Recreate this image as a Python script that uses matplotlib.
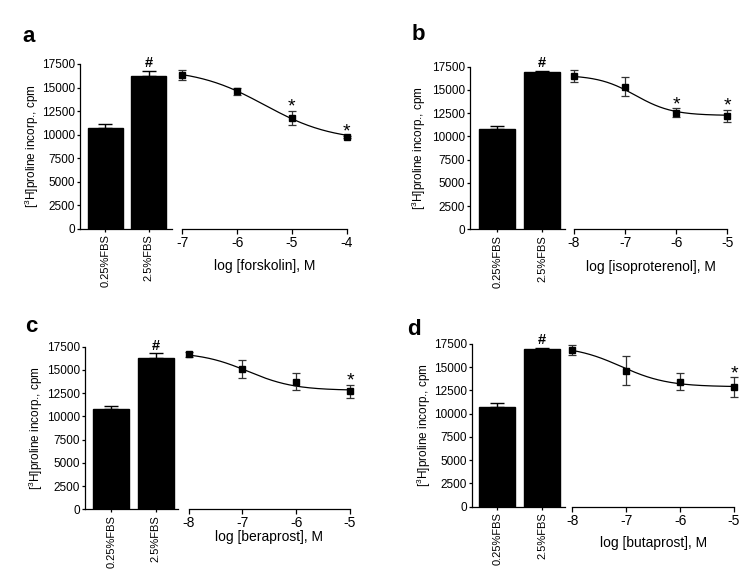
import numpy as np
import matplotlib
matplotlib.use('Agg')
import matplotlib.pyplot as plt

plt.rcParams['font.family'] = ['Liberation Sans', 'DejaVu Sans']

W, H = 750, 575

bar_labels = ['0.25%FBS', '2.5%FBS']
y_ticks = [0, 2500, 5000, 7500, 10000, 12500, 15000, 17500]
ylabel = '[$\\mathregular{^3}$H]proline incorp., cpm'

# ---- panel a : forskolin
a_bar_vals = [10750, 16200]
a_bar_err = [390, 530]
a_logc = [-7, -6, -5, -4]
a_vals = [16350, 14600, 11750, 9750]
a_err = [500, 350, 760, 100]
a_star = [False, False, True, True]
a_fit = dict(top=17000, bottom=9300, logec50=-5.5, hill=0.7)
a_xlabel = 'log [forskolin], M'

# ---- panel b : isoproterenol
b_bar_vals = [10780, 16950]
b_bar_err = [360, 100]
b_logc = [-8, -7, -6, -5]
b_vals = [16500, 15350, 12550, 12200]
b_err = [630, 1040, 480, 660]
b_star = [False, False, True, True]
b_fit = dict(top=16600, bottom=12250, logec50=-6.8, hill=1.2)
b_xlabel = 'log [isoproterenol], M'

# ---- panel c : beraprost
c_bar_vals = [10790, 16250]
c_bar_err = [360, 540]
c_logc = [-8, -7, -6, -5]
c_vals = [16680, 15100, 13750, 12700]
c_err = [270, 950, 900, 680]
c_star = [False, False, False, True]
c_fit = dict(top=16900, bottom=12800, logec50=-6.9, hill=1.0)
c_xlabel = 'log [beraprost], M'

# ---- panel d : butaprost
d_bar_vals = [10760, 16960]
d_bar_err = [360, 140]
d_logc = [-8, -7, -6, -5]
d_vals = [16850, 14600, 13450, 12840]
d_err = [500, 1560, 950, 1080]
d_star = [False, False, False, True]
d_fit = dict(top=17300, bottom=12900, logec50=-7.1, hill=1.0)
d_xlabel = 'log [butaprost], M'

fig = plt.figure(figsize=(W / 100, H / 100), dpi=100)


def px_axes(l, t, r, b):
    return fig.add_axes([l / W, 1 - b / H, (r - l) / W, (b - t) / H])


def panel(letter, letter_xy, ylab_x, bar_box, bar_c, bar_w, curve_lr,
          bar_vals, bar_err, logc, vals, err, star, fit, xlabel, xlabpad):
    left, top, right, bottom = bar_box
    # bar axes
    ax = px_axes(left, top, right, bottom)
    spacing = bar_c[1] - bar_c[0]
    ax.bar([0, 1], bar_vals, width=bar_w / spacing, color='black',
           edgecolor='black')
    ax.errorbar([0, 1], bar_vals, yerr=[[0, 0], bar_err], fmt='none',
                ecolor='black', elinewidth=1.0, capsize=5, capthick=1.0,
                clip_on=False)
    ax.text(1, bar_vals[1] + bar_err[1] + 400, '#', ha='center',
            va='baseline', fontsize=10.5, fontweight='bold')
    ax.set_xlim((left - bar_c[0]) / spacing, (right - bar_c[0]) / spacing)
    ax.set_ylim(0, 17500)
    ax.set_yticks(y_ticks)
    ax.set_yticklabels([str(v) for v in y_ticks], fontsize=8.5)
    ax.set_xticks([0, 1])
    ax.set_xticklabels(bar_labels, rotation=90, fontsize=8)
    for s in ['top', 'right']:
        ax.spines[s].set_visible(False)
    for s in ['left', 'bottom']:
        ax.spines[s].set_linewidth(0.9)
    ax.tick_params(axis='y', direction='out', length=2.5, width=0.9, pad=1)
    ax.tick_params(axis='x', direction='out', length=2, width=0.9, pad=2)
    fig.text(ylab_x / W, 1 - (top + bottom) / 2 / H, ylabel, rotation=90,
             ha='center', va='center', fontsize=8.5)
    fig.text(letter_xy[0] / W, 1 - letter_xy[1] / H, letter,
             fontsize=16, fontweight='bold', ha='left', va='baseline')

    # curve axes
    cl, cr = curve_lr
    cax = px_axes(cl, top, cr, bottom)
    xs = np.linspace(logc[0], logc[-1], 200)
    fy = fit['bottom'] + (fit['top'] - fit['bottom']) / (
        1 + 10 ** (fit['hill'] * (xs - fit['logec50'])))
    cax.plot(xs, fy, color='black', lw=0.9, clip_on=False)
    cax.errorbar(logc, vals, yerr=err, fmt='none', ecolor='#333333',
                 elinewidth=0.9, capsize=3, capthick=0.9, clip_on=False)
    cax.plot(logc, vals, 's', color='black', markersize=3.8, clip_on=False)
    for x, v, e, s in zip(logc, vals, err, star):
        if s:
            cax.text(x, v + e - 100, '*', ha='center', va='baseline',
                     fontsize=14)
    cax.set_xlim(logc[0], logc[-1])
    cax.set_ylim(0, 17500)
    cax.set_xticks(logc)
    cax.set_xticklabels([str(v) for v in logc], fontsize=10)
    cax.set_yticks([])
    for s in ['top', 'right', 'left']:
        cax.spines[s].set_visible(False)
    cax.spines['bottom'].set_linewidth(0.9)
    cax.tick_params(axis='x', direction='out', length=3.4, width=0.9, pad=1.5)
    cax.set_xlabel(xlabel, fontsize=10, labelpad=xlabpad)
    cax.patch.set_visible(False)


panel('a', (22, 42), 32, (80, 64, 172, 228.7), (105.2, 148.8), 35,
      (182.3, 346.7), a_bar_vals, a_bar_err, a_logc, a_vals, a_err,
      a_star, a_fit, a_xlabel, 7)
panel('b', (412, 40), 419, (470, 66.7, 565, 229.3), (497.2, 542.2), 35.7,
      (574, 727.3), b_bar_vals, b_bar_err, b_logc, b_vals, b_err,
      b_star, b_fit, b_xlabel, 7)
panel('c', (25, 332), 36, (85, 346.7, 178, 509.3), (111.3, 155.8), 36,
      (188.7, 350), c_bar_vals, c_bar_err, c_logc, c_vals, c_err,
      c_star, c_fit, c_xlabel, 0)
panel('d', (407, 335), 424, (471.7, 344, 565, 506.7), (497.2, 542.2), 35.7,
      (572.3, 734), d_bar_vals, d_bar_err, d_logc, d_vals, d_err,
      d_star, d_fit, d_xlabel, 6)

fig.savefig('out.png', dpi=100)
